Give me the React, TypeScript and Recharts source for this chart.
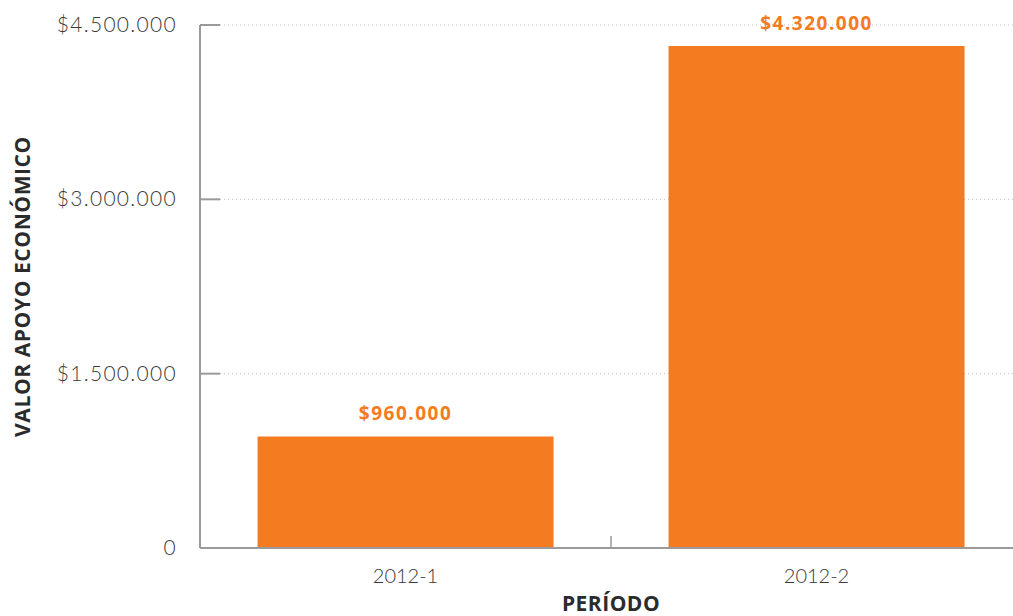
import React from "react";
import { BarChart, Bar, XAxis, YAxis, CartesianGrid, LabelList } from "recharts";

const categories = ["2012-1", "2012-2"];
const values = [960000, 4320000];
const yTicks = [0, 1500000, 3000000, 4500000];

const data = categories.map((c, i) => ({ periodo: c, valor: values[i] }));

const ORANGE = "#F47B20";
const AXIS = "#9a9a9a";
const LIGHT_FONT = "Lato, 'Open Sans', sans-serif";
const BOLD_FONT = "'Open Sans', Lato, sans-serif";

const fmt = (v: number) =>
  v === 0 ? "0" : "$" + v.toString().replace(/\B(?=(\d{3})+(?!\d))/g, ".");

const YTick = (props: any) => {
  const { x, y, payload } = props;
  return (
    <g>
      <line x1={x} x2={x + 20} y1={y} y2={y} stroke={AXIS} strokeWidth={2} />
      <text
        x={x - 23}
        y={y}
        dy={7}
        textAnchor="end"
        fill="#3a3a3a"
        fontFamily={LIGHT_FONT}
        fontWeight={300}
        fontSize={21}
        letterSpacing={1.3}
      >
        {fmt(payload.value)}
      </text>
    </g>
  );
};

const XTick = (props: any) => {
  const { x, y, payload, index } = props;
  return (
    <g>
      {index === 0 && (
        <line x1={x + 205.5} x2={x + 205.5} y1={y - 12} y2={y} stroke={AXIS} strokeWidth={1.5} />
      )}
      <text
        x={x}
        y={y}
        dy={35}
        textAnchor="middle"
        fill="#3a3a3a"
        fontFamily={LIGHT_FONT}
        fontWeight={300}
        fontSize={20}
      >
        {payload.value}
      </text>
    </g>
  );
};

export default function App() {
  return (
    <div style={{ position: "absolute", left: 0, top: 0, background: "#fff" }}>
      <BarChart
        width={1013}
        height={616}
        data={data}
        margin={{ top: 25, right: -9, left: 0, bottom: 38 }}
        barCategoryGap="14%"
      >
        <CartesianGrid vertical={false} stroke="#bdbdbd" strokeDasharray="1 3" />
        <XAxis
          dataKey="periodo"
          height={30}
          axisLine={{ stroke: AXIS, strokeWidth: 2 }}
          tickLine={false}
          tickSize={0}
          tickMargin={0}
          tick={<XTick />}
          interval={0}
          label={{
            content: (p: any) => {
              const vb = p.viewBox;
              return (
                <text
                  x={vb.x + vb.width / 2}
                  y={611}
                  textAnchor="middle"
                  fill="#2b2b2b"
                  fontFamily={BOLD_FONT}
                  fontWeight={700}
                  fontSize={21}
                  letterSpacing={0.5}
                >
                  PERÍODO
                </text>
              );
            },
          }}
        />
        <YAxis
          width={200}
          domain={[0, 4500000]}
          ticks={yTicks}
          axisLine={{ stroke: AXIS, strokeWidth: 2 }}
          tickLine={false}
          tickSize={0}
          tickMargin={0}
          tick={<YTick />}
          label={{
            content: (p: any) => {
              const vb = p.viewBox;
              const cy = vb.y + vb.height / 2;
              return (
                <text
                  x={30}
                  y={cy}
                  transform={`rotate(-90, 30, ${cy})`}
                  textAnchor="middle"
                  fill="#2b2b2b"
                  fontFamily={BOLD_FONT}
                  fontWeight={700}
                  fontSize={21}
                  letterSpacing={0.6}
                >
                  VALOR APOYO ECONÓMICO
                </text>
              );
            },
          }}
        />
        <Bar dataKey="valor" fill={ORANGE} isAnimationActive={false}>
          <LabelList
            dataKey="valor"
            position="top"
            offset={16}
            formatter={(v: any) => fmt(Number(v))}
            fill={ORANGE}
            fontFamily={BOLD_FONT}
            fontWeight={700}
            fontSize={19}
            letterSpacing={1.5}
          />
        </Bar>
      </BarChart>
    </div>
  );
}
